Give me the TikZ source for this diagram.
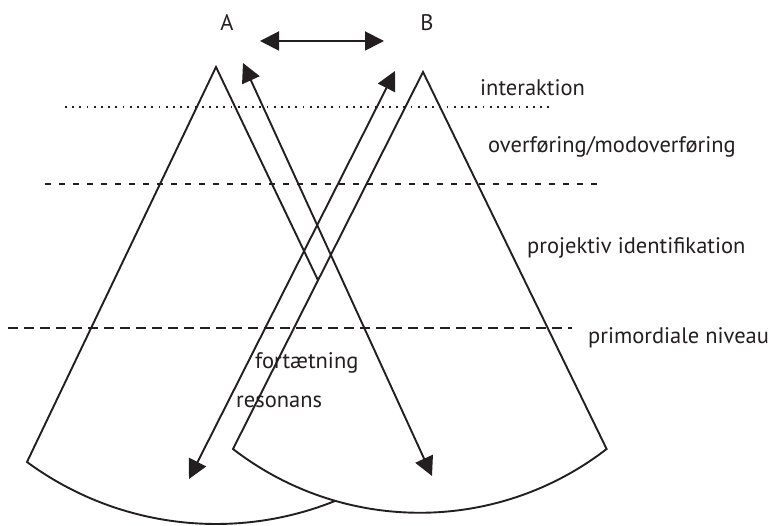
\documentclass[tikz,border=0pt]{standalone}
\usepackage{fontspec}
\setmainfont{PT Sans}
\usetikzlibrary{arrows.meta}
\definecolor{ink}{HTML}{231F20}
\begin{document}
\begin{tikzpicture}[x=1pt,y=1pt,
  shape line/.style={draw=ink,line width=1.9pt,fill=white,line join=miter},
  conn/.style={draw=ink,line width=1.9pt,{Triangle[length=19pt,width=19pt]}-{Triangle[length=19pt,width=19pt]}},
  lbl/.style={text=ink,font=\fontsize{22.5}{26}\selectfont,inner sep=0pt,anchor=west},
  dotline/.style={draw=ink,line width=1.8pt,dash pattern=on 1.8pt off 5.4pt},
  dashA/.style={draw=ink,line width=1.7pt,dash pattern=on 6pt off 8pt},
  dashB/.style={draw=ink,line width=1.8pt,dash pattern=on 10pt off 6pt}]
\useasboundingbox (0,0) rectangle (769,526);
% sector A
\coordinate (Aapex) at (216,459);
\coordinate (Aleft) at (27,64);
\path[shape line] (Aapex) -- (Aleft) arc[start angle=233.67,end angle=306.33,radius=319] -- cycle;
% sector B
\coordinate (Bapex) at (423,454);
\coordinate (Bleft) at (233,77);
\path[shape line] (Bapex) -- (Bleft) arc[start angle=232.3,end angle=307.7,radius=305.5] -- cycle;
% level lines
\coordinate (d1a) at (65,419); \coordinate (d1b) at (552,419);
\coordinate (d2a) at (45,342); \coordinate (d2b) at (600,342);
\coordinate (d3a) at (8,198); \coordinate (d3b) at (572,198);
\draw[dotline] (d1a) -- (d1b);
\draw[dashA] (d2a) -- (d2b);
\draw[dashB] (d3a) -- (d3b);
% labels
\node[lbl,anchor=center] (A) at (227,503) {A};
\node[lbl,anchor=center] (B) at (427,503) {B};
\node[lbl] (l1) at (480,438) {interaktion};
\node[lbl] (l2) at (488,379) {overføring/modoverføring};
\node[lbl] (l3) at (527,278) {projektiv identifikation};
\node[lbl] (l4) at (588,188) {primordiale niveau};
\node[lbl] (l5) at (255,163) {fortætning};
\node[lbl] (l6) at (236,124) {resonans};
% arrows
\coordinate (t1) at (260,485); \coordinate (t2) at (384,485);
\draw[conn] (t1) -- (t2);
\coordinate (p1) at (432,50); \coordinate (p2) at (243,463);
\draw[conn] (p1) -- (p2);
\coordinate (q1) at (189,47); \coordinate (q2) at (395,455);
\draw[conn] (q1) -- (q2);
\end{tikzpicture}
\end{document}
